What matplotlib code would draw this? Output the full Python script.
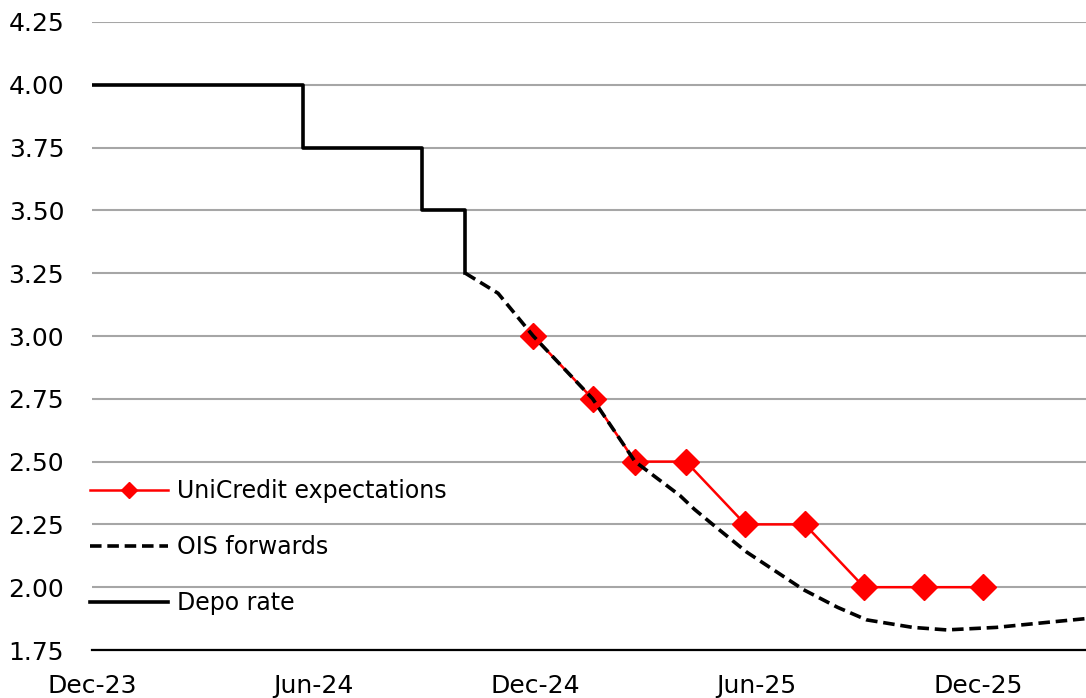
"""ECB deposit rate: history, OIS forwards and UniCredit expectations."""

import matplotlib
matplotlib.use("Agg")
import matplotlib.pyplot as plt
import matplotlib.dates as mdates
import pandas as pd

# Deposit facility rate (step changes)
depo_dates = pd.to_datetime(["2023-12-14", "2024-06-05", "2024-06-05", "2024-09-11",
                             "2024-09-11", "2024-10-17", "2024-10-17"])
depo_rate = [4.00, 4.00, 3.75, 3.75, 3.50, 3.50, 3.25]

# Market-implied path (OIS forwards)
ois_dates = pd.to_datetime(["2024-10-17", "2024-11-13", "2024-12-12", "2025-01-30",
                            "2025-03-06", "2025-04-12", "2025-04-24", "2025-05-09",
                            "2025-06-06", "2025-07-23", "2025-08-20", "2025-09-13",
                            "2025-10-21", "2025-11-18", "2025-12-29", "2026-02-09",
                            "2026-03-13"])
ois_rate = [3.25, 3.17, 3.00, 2.75, 2.50, 2.365, 2.31, 2.25,
            2.14, 1.99, 1.92, 1.87, 1.84, 1.83, 1.84, 1.86, 1.875]

# UniCredit forecast at each ECB meeting
uc_dates = pd.to_datetime(["2024-12-12", "2025-01-30", "2025-03-06", "2025-04-17",
                           "2025-06-05", "2025-07-24", "2025-09-11", "2025-10-30",
                           "2025-12-18"])
uc_rate = [3.00, 2.75, 2.50, 2.50, 2.25, 2.25, 2.00, 2.00, 2.00]

tick_dates = pd.to_datetime(["2023-12-14", "2024-06-14", "2024-12-14",
                             "2025-06-14", "2025-12-14"])
x_range = pd.to_datetime(["2023-12-14", "2026-03-13"])
y_ticks = [1.75, 2.00, 2.25, 2.50, 2.75, 3.00, 3.25, 3.50, 3.75, 4.00, 4.25]

plt.rcParams["font.family"] = ["DejaVu Sans"]

fig = plt.figure(figsize=(10.86, 6.98), dpi=100)
ax = fig.add_axes([92 / 1086, 48 / 698, 994 / 1086, 628 / 698])

ax.plot(uc_dates, uc_rate, color="#ff0000", lw=1.8, marker="D", ms=13,
        mec="#ff0000", mfc="#ff0000", label="UniCredit expectations", zorder=3)
ax.plot(ois_dates, ois_rate, color="black", lw=2.6, ls=(0, (3.2, 1.6)),
        label="OIS forwards", zorder=4)
ax.plot(depo_dates, depo_rate, color="black", lw=2.6, label="Depo rate", zorder=4)

ax.set_xlim(x_range[0], x_range[1])
ax.set_ylim(1.75, 4.25)
ax.set_yticks(y_ticks)
ax.yaxis.set_major_formatter(matplotlib.ticker.FormatStrFormatter("%.2f"))
ax.set_xticks(tick_dates)
ax.xaxis.set_major_formatter(mdates.DateFormatter("%b-%y"))

ax.grid(axis="y", color="#a6a6a6", lw=1.5, zorder=0)
ax.set_axisbelow(True)
for side in ("left", "right", "top"):
    ax.spines[side].set_visible(False)
ax.spines["bottom"].set_linewidth(1.6)
ax.spines["bottom"].set_zorder(5)
ax.tick_params(axis="both", length=0, labelsize=18)
ax.tick_params(axis="y", pad=20)
ax.tick_params(axis="x", pad=17)

ax.legend(loc="center left", bbox_to_anchor=(-0.002, 0.164), frameon=False,
          fontsize=17, handlelength=3.3, handletextpad=0.4, labelspacing=1.35,
          markerscale=0.6, borderaxespad=0, borderpad=0)

fig.savefig("out.png", dpi=100)
